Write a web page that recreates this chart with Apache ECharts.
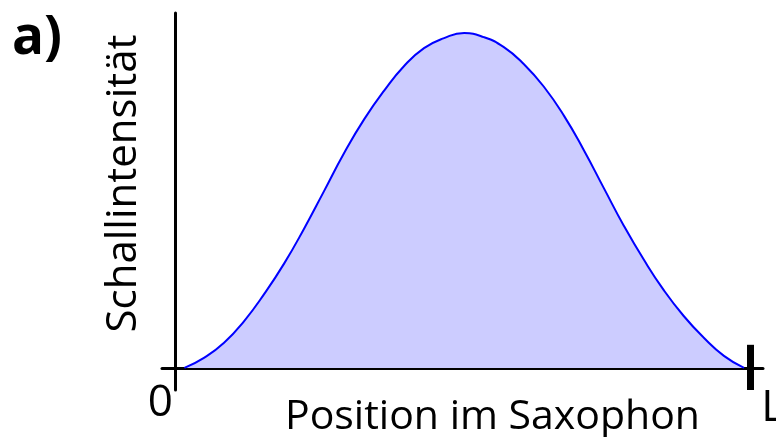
<!DOCTYPE html>
<html>
<head>
<meta charset="utf-8">
<script src="https://cdn.jsdelivr.net/npm/echarts@6/dist/echarts.min.js"></script>
<style>
  html, body { margin: 0; padding: 0; background: #fff; }
  #chart { width: 776px; height: 437px; }
</style>
</head>
<body>
<div id="chart"></div>
<script>
// Position im Saxophon (0 = Anfang, 100 = L)
const positions = [1.6, 5.0, 8.5, 12.0, 15.5, 19.0, 22.4, 25.9, 29.4, 32.9, 36.4, 39.8, 43.3, 46.8, 50.3,
  53.7, 57.2, 60.7, 64.2, 67.7, 71.1, 74.6, 78.1, 81.6, 85.0, 88.5, 92.0, 95.5, 99.0]
// Schallintensität (relativ, max = 100)
const intensity = [0, 3.0, 7.5, 14.0, 22.1, 31.3, 41.5, 52.8, 64.2, 74.3, 82.9, 90.1, 95.5, 98.5, 100,
  98.8, 95.8, 90.7, 83.9, 75.2, 65.1, 53.7, 42.4, 32.2, 23.3, 15.5, 9.0, 3.6, 0]
const tickValues = [0, 100]
const tickLabels = ['0', 'L']

const chart = echarts.init(document.getElementById('chart'))
const FONT = '"Open Sans", sans-serif'

const option = {
  animation: false,
  title: {
    text: 'a)',
    left: 7,
    top: 7,
    textStyle: { fontFamily: FONT, fontSize: 53, fontWeight: 'bold', color: '#000' }
  },
  grid: { left: 162, right: 13, top: 13, bottom: 47, outerBoundsMode: 'none', containLabel: false },
  xAxis: {
    type: 'value',
    min: -2.3,
    max: 102.3,
    name: 'Position im Saxophon',
    nameLocation: 'middle',
    nameGap: 7,
    nameMoveOverlap: false,
    nameTextStyle: { fontFamily: FONT, fontSize: 41, color: '#000', padding: [0, 0, 0, 60] },
    axisLine: { onZero: true, lineStyle: { color: '#000', width: 3 } },
    axisTick: { show: false },
    splitLine: { show: false },
    axisLabel: {
      customValues: tickValues,
      margin: -9,
      fontFamily: FONT,
      fontSize: 44,
      color: '#000',
      formatter: function(v) {
        const i = tickValues.indexOf(v)
        return i === 0 ? '{l|' + tickLabels[0] + '}' : '{r|' + tickLabels[i] + '}'
      },
      rich: {
        l: { fontFamily: FONT, fontSize: 44, color: '#000', padding: [0, 30, 0, 0] },
        r: { fontFamily: FONT, fontSize: 44, color: '#000', padding: [5, 0, 0, 46] }
      }
    }
  },
  yAxis: {
    type: 'value',
    min: -6.6,
    max: 106,
    name: 'Schallintensität',
    nameLocation: 'middle',
    nameRotate: 90,
    nameGap: 17,
    nameMoveOverlap: false,
    nameTextStyle: { fontFamily: FONT, fontSize: 42, color: '#000', padding: [0, 0, 0, 36] },
    axisLine: { onZero: true, lineStyle: { color: '#000', width: 3 } },
    axisTick: { show: false },
    axisLabel: { show: false },
    splitLine: { show: false }
  },
  series: [{
    type: 'line',
    data: positions.map((x, i) => [x, intensity[i]]),
    smooth: true,
    symbol: 'none',
    lineStyle: { color: '#0000ff', width: 2 },
    areaStyle: { color: '#ccccff', opacity: 1 },
    markLine: {
      silent: true,
      symbol: 'none',
      label: { show: false },
      lineStyle: { color: '#000', width: 7, type: 'solid' },
      data: [[{ coord: [100, -6.6] }, { coord: [100, 6.9] }]]
    }
  }]
}
chart.setOption(option)
</script>
</body>
</html>
